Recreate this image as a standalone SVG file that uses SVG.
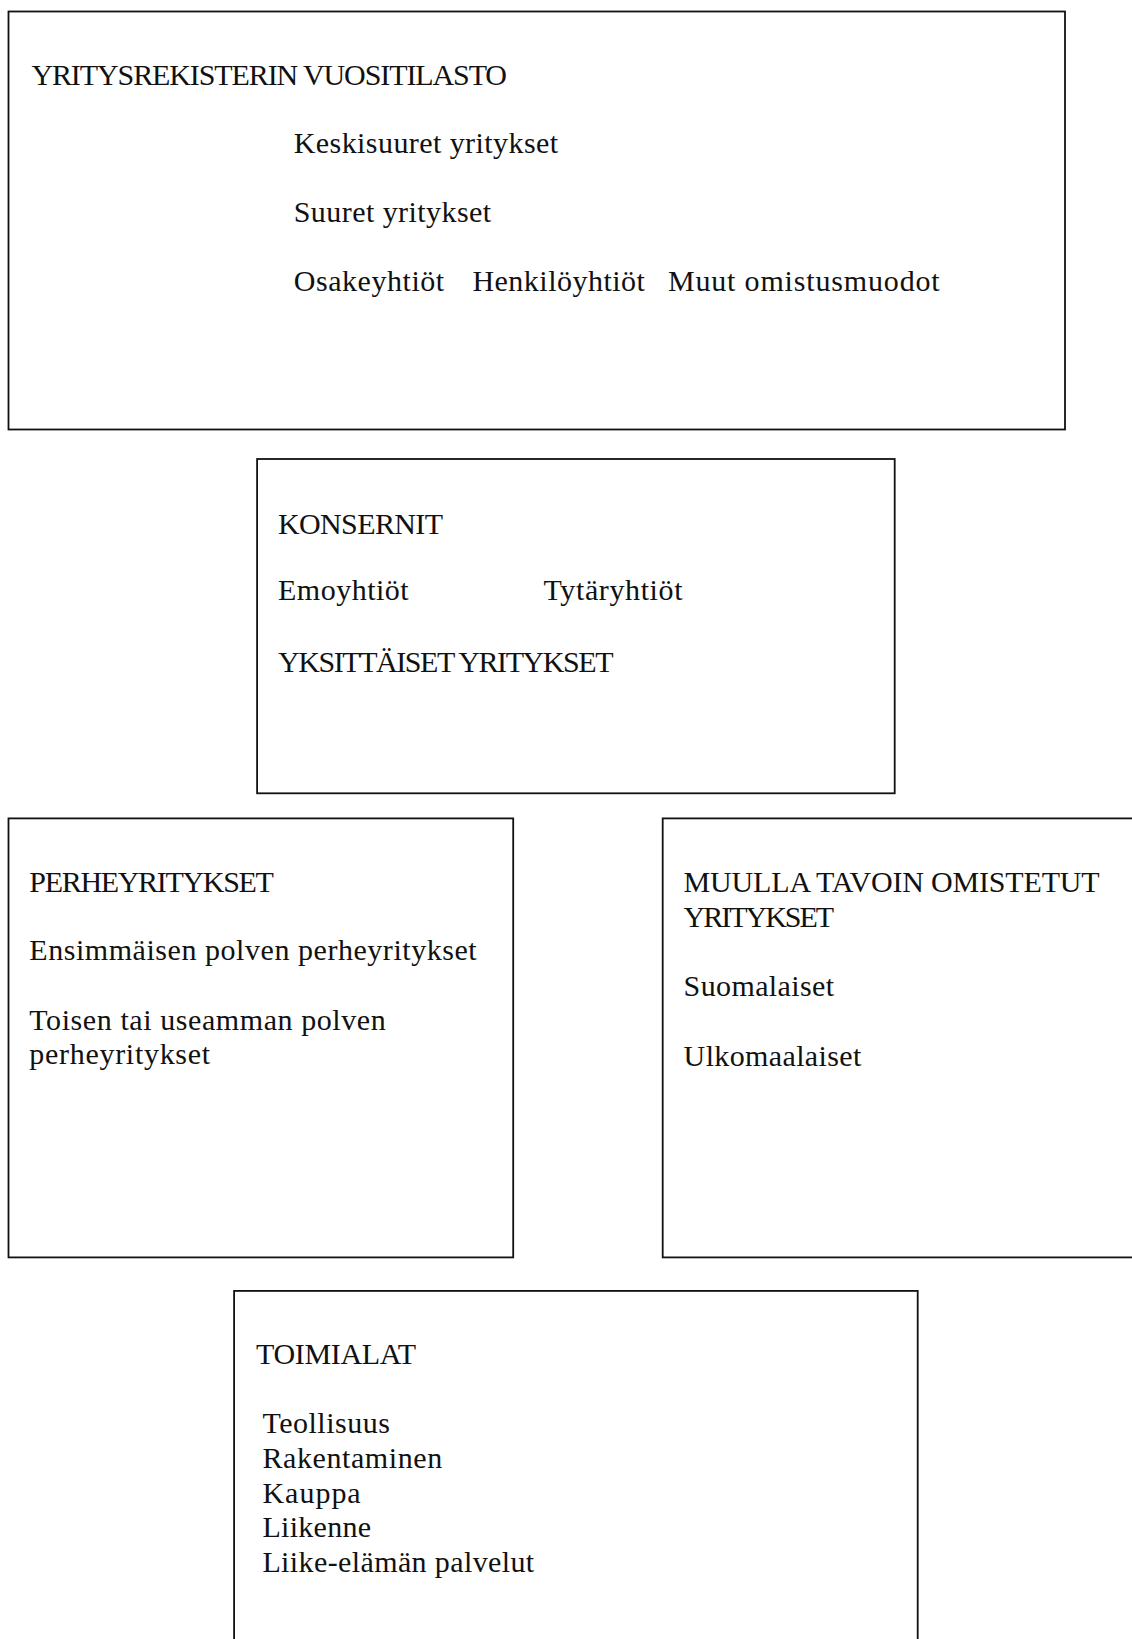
<svg xmlns="http://www.w3.org/2000/svg" width="1132" height="1639" viewBox="0 0 1132 1639">
<style>
.box{fill:#fff;stroke:#111;stroke-width:1.8}
text{font-family:"Liberation Serif","Times New Roman",serif;font-size:30px;fill:#111}
</style>
<rect x="0" y="0" width="1132" height="1639" fill="#fff"/>
<g id="connectors"></g>
<g id="vuositilasto">
<rect class="box" x="8.5" y="11.5" width="1056.5" height="418"/>
<text x="31.4" y="85" textLength="475.6">YRITYSREKISTERIN VUOSITILASTO</text>
<text x="293.7" y="152.6" textLength="264.4">Keskisuuret yritykset</text>
<text x="293.7" y="221.6" textLength="197.5">Suuret yritykset</text>
<text x="293.7" y="290.6" textLength="150.5">Osakeyhtiöt</text>
<text x="472.4" y="290.6" textLength="172.5">Henkilöyhtiöt</text>
<text x="667.9" y="290.6" textLength="271.8">Muut omistusmuodot</text>
</g>
<g id="konsernit">
<rect class="box" x="257.1" y="459" width="637.6" height="334.3"/>
<text x="278" y="533.6" textLength="165">KONSERNIT</text>
<text x="278" y="600" textLength="130.7">Emoyhtiöt</text>
<text x="543.5" y="600" textLength="139">Tytäryhtiöt</text>
<text x="278" y="671.6" textLength="335.5">YKSITTÄISET YRITYKSET</text>
</g>
<g id="perheyritykset">
<rect class="box" x="8.5" y="818.4" width="504.7" height="439"/>
<text x="29.3" y="892" textLength="244.6">PERHEYRITYKSET</text>
<text x="29.3" y="959.5" textLength="447.4">Ensimmäisen polven perheyritykset</text>
<text x="29.3" y="1029.6" textLength="356.4">Toisen tai useamman polven</text>
<text x="29.3" y="1064" textLength="180.8">perheyritykset</text>
</g>
<g id="muulla-tavoin">
<rect class="box" x="662.7" y="818.4" width="500" height="439"/>
<text x="683.6" y="892" textLength="416">MUULLA TAVOIN OMISTETUT</text>
<text x="683.6" y="926.6" textLength="150.5">YRITYKSET</text>
<text x="683.6" y="996" textLength="150.5">Suomalaiset</text>
<text x="683.6" y="1065.6" textLength="177.7">Ulkomaalaiset</text>
</g>
<g id="toimialat">
<rect class="box" x="234.1" y="1290.9" width="683.6" height="400"/>
<text x="256.1" y="1363.6" textLength="160">TOIMIALAT</text>
<text x="262.4" y="1433" textLength="127.5">Teollisuus</text>
<text x="262.4" y="1467.8" textLength="179.8">Rakentaminen</text>
<text x="262.4" y="1502.6" textLength="98.3">Kauppa</text>
<text x="262.4" y="1537.4" textLength="108.7">Liikenne</text>
<text x="262.4" y="1572.2" textLength="271.8">Liike-elämän palvelut</text>
</g>
</svg>
